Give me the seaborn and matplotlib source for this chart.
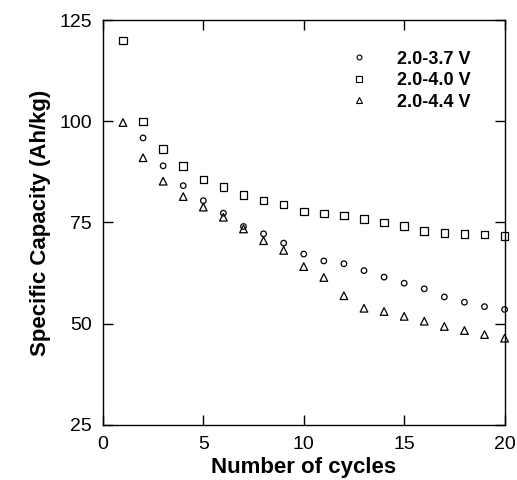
import matplotlib
matplotlib.use("Agg")
import matplotlib.pyplot as plt
from matplotlib.lines import Line2D
import seaborn as sns
import pandas as pd

cycles = list(range(1, 21))
cycles_37 = list(range(2, 21))
cap_37 = [95.9, 89.0, 84.1, 80.4, 77.3, 74.0, 72.2, 69.9, 67.2, 65.5, 64.8,
          63.1, 61.5, 60.0, 58.6, 56.6, 55.3, 54.2, 53.5]
cap_40 = [120.0, 100.0, 93.2, 88.9, 85.6, 83.7, 81.8, 80.4, 79.4, 77.7, 77.2,
          76.7, 75.9, 75.0, 74.2, 72.9, 72.4, 72.1, 72.0, 71.7]
cap_44 = [99.7, 91.0, 85.2, 81.4, 78.8, 76.3, 73.4, 70.5, 68.1, 64.1, 61.4,
          56.9, 53.8, 53.0, 51.8, 50.6, 49.3, 48.3, 47.3, 46.4]
labels = ["2.0-3.7 V", "2.0-4.0 V", "2.0-4.4 V"]
x_ticks = [0, 5, 10, 15, 20]
y_ticks = [25, 50, 75, 100, 125]

sns.set_theme(style="ticks")
plt.rcParams['font.family'] = ['Liberation Sans', 'DejaVu Sans']
plt.rcParams['text.color'] = 'black'
plt.rcParams['axes.labelcolor'] = 'black'

fig = plt.figure(figsize=(5.17, 4.8), dpi=100)
ax = fig.add_axes([0.199, 0.115, 0.777, 0.843])

df37 = pd.DataFrame({"cycle": cycles_37, "cap": cap_37})
df40 = pd.DataFrame({"cycle": cycles, "cap": cap_40})
df44 = pd.DataFrame({"cycle": cycles, "cap": cap_44})

specs = [(df37, "o", 16), (df40, "s", 30), (df44, "^", 30)]
for d, m, s in specs:
    sns.scatterplot(data=d, x="cycle", y="cap", marker=m, s=s, ax=ax,
                    legend=False, clip_on=False)
for coll in ax.collections:
    coll.set_facecolor("none")
    coll.set_edgecolor("black")
    coll.set_linewidth(0.9)

ax.set_xlim(0, 20)
ax.set_ylim(25, 125)
ax.set_xticks(x_ticks)
ax.set_yticks(y_ticks)
ax.tick_params(direction="in", length=7, width=1, top=True, right=True,
               labelsize=14, colors="black", pad=8)
for sp in ax.spines.values():
    sp.set_visible(True)
    sp.set_linewidth(1)
    sp.set_color("black")

ax.set_xlabel("Number of cycles", fontsize=16, fontweight="bold", labelpad=3)
ax.set_ylabel("Specific Capacity (Ah/kg)", fontsize=16, fontweight="bold", labelpad=6)

handles = [Line2D([], [], ls="", marker=m, mfc="none", mec="black", ms=ms, mew=0.8)
           for m, ms in [("o", 3.5), ("s", 4.5), ("^", 4.5)]]
leg = ax.legend(handles, labels, loc="upper right", bbox_to_anchor=(0.955, 0.965),
                frameon=False, prop={"weight": "bold", "size": 13},
                handletextpad=1.6, labelspacing=0.25, handlelength=1.0)

fig.savefig("out.png", dpi=100)
